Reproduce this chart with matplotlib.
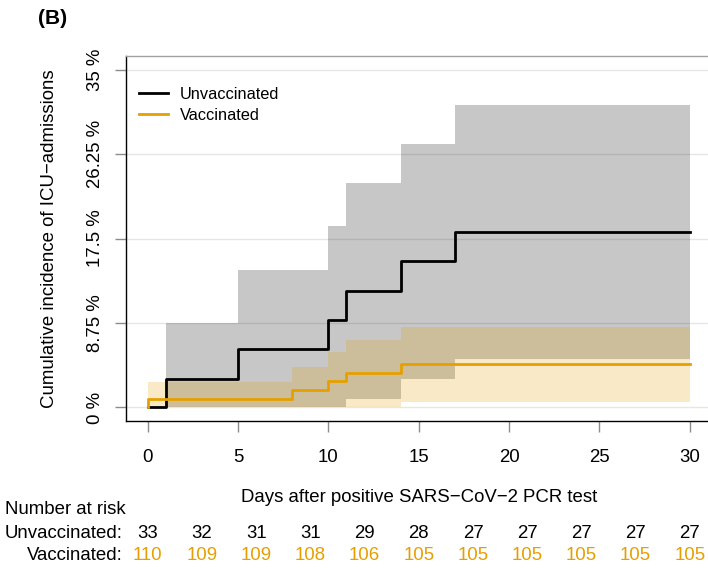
import matplotlib
matplotlib.use("Agg")
import matplotlib.pyplot as plt
import matplotlib.transforms as mtrans
import numpy as np

plt.rcParams['font.family'] = ['Liberation Sans', 'DejaVu Sans']

# ---- data (cumulative incidence, %) ----
unvac_t = [0, 1, 5, 10, 11, 14, 17, 30]
unvac_y = [0, 3.0, 6.1, 9.1, 12.1, 15.2, 18.2, 18.2]
unvac_lo = [0, 0, 0, 0, 0.9, 2.9, 5.0, 5.0]
unvac_hi = [0, 8.8, 14.2, 18.8, 23.2, 27.3, 31.3, 31.3]

vac_t = [0, 0, 8, 10, 11, 14, 30]
vac_y = [0, 0.9, 1.8, 2.7, 3.6, 4.5, 4.5]
vac_ci_t = [0, 8, 10, 11, 14, 17, 30]
vac_lo = [0, 0, 0, 0.1, 0.6, 0.6, 0.6]
vac_hi = [2.6, 4.2, 5.7, 7.0, 8.3, 8.3, 8.3]

yticks = [0, 8.75, 17.5, 26.25, 35]
ytick_labels = ["0 %", "8.75 %", "17.5 %", "26.25 %", "35 %"]
xticks = [0, 5, 10, 15, 20, 25, 30]

risk_times = [0, 3, 6, 9, 12, 15, 18, 21, 24, 27, 30]
risk_unvac = [33, 32, 31, 31, 29, 28, 27, 27, 27, 27, 27]
risk_vac = [110, 109, 109, 108, 106, 105, 105, 105, 105, 105, 105]

ORANGE = "#E69F00"
FS = 13.4
W, H = 708, 569
fig = plt.figure(figsize=(W / 100, H / 100), dpi=100)
ax = fig.add_axes([126 / W, (H - 421) / H, 585.5 / W, 365 / H])

ax.set_xlim(-1.2, 31.2)
ax.set_ylim(-1.4, 36.4)

for yv in yticks:
    ax.axhline(yv, color="#E6E6E6", lw=1.0, zorder=0)

ax.fill_between(unvac_t, unvac_lo, unvac_hi, step="post", color="black",
                alpha=0.22, lw=0, zorder=1)
ax.fill_between(vac_ci_t, vac_lo, vac_hi, step="post", color=ORANGE,
                alpha=0.22, lw=0, zorder=2)
ax.step(unvac_t, unvac_y, where="post", color="black", lw=2, zorder=3,
        label="Unvaccinated")
ax.step(vac_t, vac_y, where="post", color=ORANGE, lw=2, zorder=3,
        label="Vaccinated")

ax.set_yticks(yticks)
ax.set_yticklabels(ytick_labels, rotation=90, va="center", fontsize=FS)
ax.set_xticks(xticks)
ax.set_xticklabels([str(x) for x in xticks], fontsize=FS)
ax.tick_params(axis="both", color="#8C8C8C", length=8, width=1)
ax.tick_params(axis="y", pad=8)
ax.tick_params(axis="x", pad=12)

for s in ["left", "bottom"]:
    ax.spines[s].set_color("black")
    ax.spines[s].set_linewidth(1)
ax.spines["top"].set_color("#A0A0A0")
ax.spines["top"].set_linewidth(1)
ax.spines["right"].set_visible(False)

ax.set_ylabel("Cumulative incidence of ICU\u2212admissions", fontsize=FS,
              labelpad=21)

leg = ax.legend(loc="upper left", bbox_to_anchor=((139 - 126) / 585.5, (421 - 87) / 365),
                frameon=False, fontsize=11.8, handlelength=1.75,
                handletextpad=0.75, labelspacing=0.35, borderpad=0,
                borderaxespad=0)

def fx(px):
    return px / W

def fy(py):
    return 1 - py / H

fig.text(fx(53), fy(19), "(B)", fontsize=15, fontweight="bold",
         ha="center", va="center")
fig.text(fx(419), fy(497), "Days after positive SARS\u2212CoV\u22122 PCR test",
         fontsize=FS, ha="center", va="center")
fig.text(fx(5), fy(510), "Number at risk", fontsize=FS, ha="left", va="center")
fig.text(fx(123), fy(534), "Unvaccinated:", fontsize=FS, ha="right", va="center")
fig.text(fx(123), fy(555), "Vaccinated:", fontsize=FS, ha="right", va="center",
         color="black")

blend = mtrans.blended_transform_factory(ax.transData, fig.transFigure)
for t, n in zip(risk_times, risk_unvac):
    ax.text(t, fy(534), str(n), transform=blend, fontsize=FS, ha="center",
            va="center", color="black", clip_on=False)
for t, n in zip(risk_times, risk_vac):
    ax.text(t, fy(555), str(n), transform=blend, fontsize=FS, ha="center",
            va="center", color=ORANGE, clip_on=False)

fig.savefig("out.png", dpi=100)
